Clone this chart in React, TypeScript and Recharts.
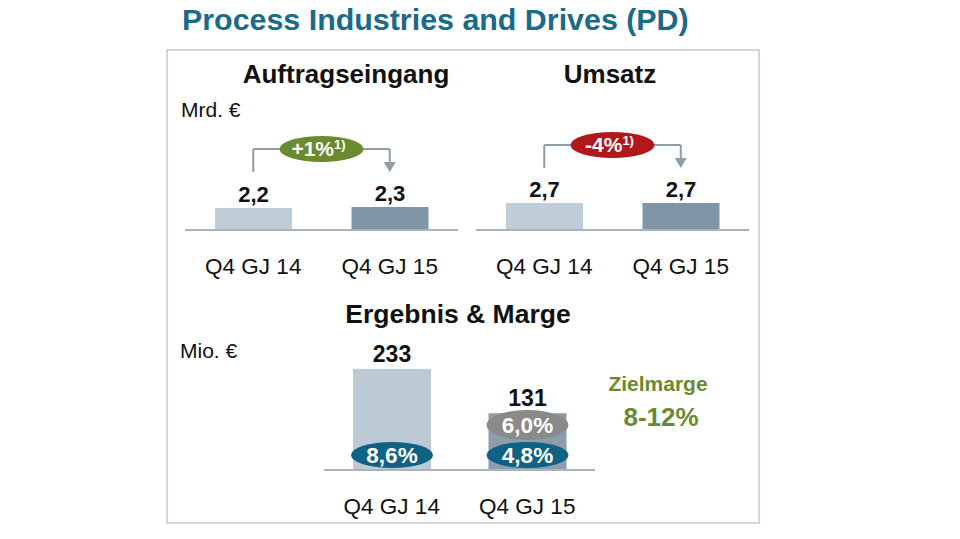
import React from 'react';
import {
  BarChart,
  Bar,
  XAxis,
  YAxis,
  Cell,
  LabelList,
  ReferenceLine,
  ReferenceDot,
} from 'recharts';

const quarters = ['Q4 GJ 14', 'Q4 GJ 15'];
const orders = [2.2, 2.3];
const revenue = [2.7, 2.7];
const profit = [233, 131];
const margin = [8.6, 4.8];
const adjMargin = [null, 6.0];
const ordersChange = '+1%';
const revenueChange = '-4%';

const FONT = '"Liberation Sans", Arial, sans-serif';
const TEAL = '#1a6a8a';
const OLIVE = '#6a8a2e';
const BAR_LIGHT = '#bfcdd9';
const BAR_DARK = '#8195a8';
const AXIS = '#a9b3bc';
const BRACKET = '#8d9daa';

const de = (v: number) => v.toFixed(1).replace('.', ',');

const QuarterTick = (props: any) => {
  const { x, y, payload } = props;
  return (
    <text x={x} y={y + 44} textAnchor="middle" fontSize={22.5} fill="#111" fontFamily={FONT}>
      {payload.value}
    </text>
  );
};

const ChangeBadge = (props: any) => {
  const { viewBox, text, fill } = props;
  const cx = viewBox.x + viewBox.width / 2;
  const cy = viewBox.y + viewBox.height / 2;
  return (
    <g>
      <ellipse cx={cx} cy={cy} rx={42} ry={13} fill={fill} />
      <text x={cx - 3} y={cy + 7} textAnchor="middle" fontSize={21} fontWeight="bold" fill="#fff" fontFamily={FONT}>
        {text}
        <tspan fontSize={13} dy={-7}>1)</tspan>
      </text>
    </g>
  );
};

const ArrowHead = (props: any) => {
  const { cx, cy } = props;
  return <path d={`M${cx - 6},${cy - 10} L${cx + 6},${cy - 10} L${cx},${cy} Z`} fill={BRACKET} />;
};

function KpiChart({ left, values, change, badgeColor }: { left: number; values: number[]; change: string; badgeColor: string }) {
  const data = quarters.map((q, i) => ({ quarter: q, value: values[i] }));
  const top = Math.max(...values);
  const low = top + 3.5;
  const high = top + 5.8;
  return (
    <div style={{ position: 'absolute', left, top: 120 }}>
      <BarChart width={273} height={160} data={data} margin={{ top: 10, right: 0, bottom: 0, left: 0 }} style={{ overflow: 'visible' }}>
        <XAxis
          dataKey="quarter"
          height={50}
          interval={0}
          tickLine={false}
          tickSize={0}
          tickMargin={0}
          axisLine={{ stroke: AXIS, strokeWidth: 2 }}
          tick={<QuarterTick />}
        />
        <YAxis hide domain={[0, 10]} />
        <Bar dataKey="value" barSize={77} isAnimationActive={false}>
          {data.map((d, i) => (
            <Cell key={`c-${d.quarter}`} fill={i === 0 ? BAR_LIGHT : BAR_DARK} />
          ))}
          <LabelList
            dataKey="value"
            position="top"
            offset={6}
            formatter={(v: any) => de(Number(v))}
            style={{ fontSize: 22, fontWeight: 'bold', fill: '#111', fontFamily: FONT }}
          />
        </Bar>
        <ReferenceLine segment={[{ x: quarters[0], y: low }, { x: quarters[0], y: high }]} stroke={BRACKET} strokeWidth={2} />
        <ReferenceLine
          segment={[{ x: quarters[0], y: high }, { x: quarters[1], y: high }]}
          stroke={BRACKET}
          strokeWidth={2}
          label={<ChangeBadge text={change} fill={badgeColor} />}
        />
        <ReferenceLine segment={[{ x: quarters[1], y: high }, { x: quarters[1], y: low + 0.8 }]} stroke={BRACKET} strokeWidth={2} />
        <ReferenceDot x={quarters[1]} y={low} r={1} shape={<ArrowHead />} />
      </BarChart>
    </div>
  );
}

const MarginBadge = (fill: string, lift: number, ry: number) => (props: any) => {
  const { x, y, width, height, value } = props;
  if (value == null) return null;
  const cx = Number(x) + Number(width) / 2;
  const cy = Number(y) + Number(height) - lift;
  return (
    <g>
      <ellipse cx={cx} cy={cy} rx={41} ry={ry} fill={fill} />
      <text x={cx} y={cy + 8} textAnchor="middle" fontSize={22.5} fontWeight="bold" fill="#fff" fontFamily={FONT}>
        {de(Number(value))}%
      </text>
    </g>
  );
};

function ProfitChart() {
  const data = quarters.map((q, i) => ({ quarter: q, profit: profit[i], margin: margin[i], adj: adjMargin[i] }));
  return (
    <div style={{ position: 'absolute', left: 324, top: 330 }}>
      <BarChart width={271} height={190} data={data} margin={{ top: 10, right: 0, bottom: 0, left: 0 }} style={{ overflow: 'visible' }}>
        <XAxis
          dataKey="quarter"
          height={50}
          interval={0}
          tickLine={false}
          tickSize={0}
          tickMargin={0}
          axisLine={{ stroke: AXIS, strokeWidth: 2 }}
          tick={<QuarterTick />}
        />
        <YAxis hide domain={[0, 300]} />
        <Bar dataKey="profit" barSize={78} isAnimationActive={false}>
          {data.map((d, i) => (
            <Cell key={`p-${d.quarter}`} fill={i === 0 ? '#bccad6' : '#8e9dac'} />
          ))}
          <LabelList
            dataKey="profit"
            position="top"
            offset={7}
            style={{ fontSize: 23, fontWeight: 'bold', fill: '#111', fontFamily: FONT }}
          />
          <LabelList dataKey="margin" content={MarginBadge('#0f6283', 15, 13)} />
          <LabelList dataKey="adj" content={MarginBadge('#8a8a8a', 45, 15)} />
        </Bar>
      </BarChart>
    </div>
  );
}

export default function App() {
  const heading: React.CSSProperties = {
    position: 'absolute',
    fontFamily: FONT,
    fontWeight: 'bold',
    fontSize: 26,
    color: '#111',
    transform: 'translateX(-50%)',
    whiteSpace: 'nowrap',
    lineHeight: 1,
  };
  return (
    <div style={{ position: 'absolute', left: 0, top: 0, width: 960, height: 539, background: '#fff', overflow: 'hidden', fontFamily: FONT }}>
      <div style={{ position: 'absolute', left: 182, top: 4, fontSize: 30.4, fontWeight: 'bold', color: TEAL, whiteSpace: 'nowrap', lineHeight: 1 }}>
        Process Industries and Drives (PD)
      </div>
      <div style={{ position: 'absolute', left: 166, top: 49, width: 590, height: 471, border: '2px solid #d2d6da' }} />

      <div style={{ ...heading, left: 346, top: 61 }}>Auftragseingang</div>
      <div style={{ ...heading, left: 610, top: 61 }}>Umsatz</div>
      <div style={{ ...heading, left: 458, top: 301, fontSize: 26.5 }}>Ergebnis &amp; Marge</div>

      <div style={{ position: 'absolute', left: 181, top: 99, fontSize: 21, color: '#111', lineHeight: 1 }}>Mrd. €</div>
      <div style={{ position: 'absolute', left: 180, top: 340, fontSize: 21, color: '#111', lineHeight: 1 }}>Mio. €</div>

      <KpiChart left={185} values={orders} change={ordersChange} badgeColor={OLIVE} />
      <KpiChart left={476} values={revenue} change={revenueChange} badgeColor="#b0181c" />
      <ProfitChart />

      <div style={{ position: 'absolute', left: 658, top: 373, transform: 'translateX(-50%)', fontSize: 21, fontWeight: 'bold', color: OLIVE, lineHeight: 1 }}>
        Zielmarge
      </div>
      <div style={{ position: 'absolute', left: 661, top: 404, transform: 'translateX(-50%)', fontSize: 26, fontWeight: 'bold', color: OLIVE, lineHeight: 1 }}>
        8-12%
      </div>
    </div>
  );
}
